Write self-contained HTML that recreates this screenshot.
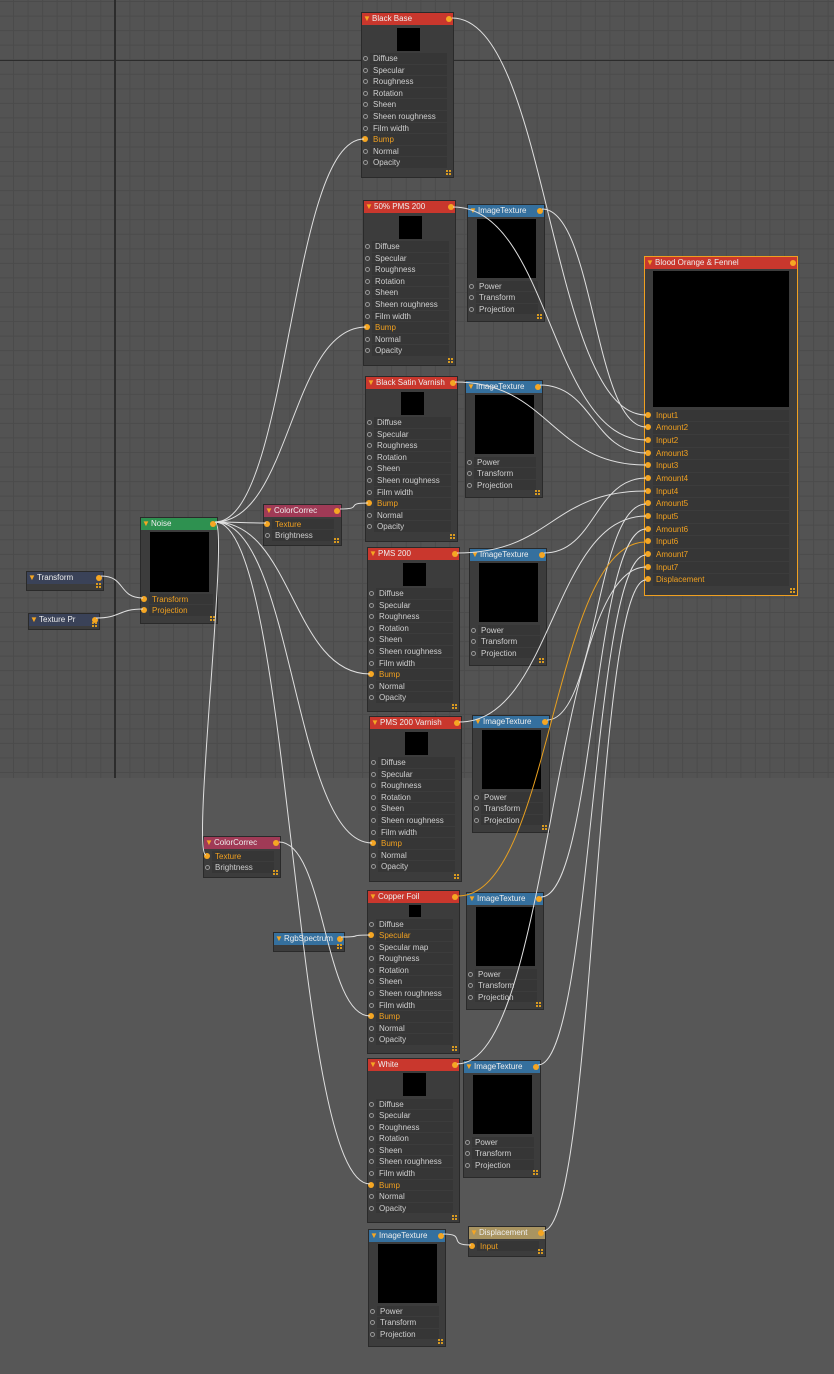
<!DOCTYPE html>
<html><head><meta charset="utf-8"><style>
body{margin:0;width:834px;height:1374px;overflow:hidden;background:#575757;font-family:"Liberation Sans",sans-serif;position:relative}
#grid{position:absolute;left:0;top:0;width:834px;height:778px;background-color:#535353;
background-image:linear-gradient(90deg,transparent 114px,#2c2c2c 114px,#2c2c2c 116px,transparent 116px),linear-gradient(0deg,transparent 717px,#2c2c2c 717px,#2c2c2c 718px,transparent 718px),linear-gradient(90deg,#4b4b4b 1px,transparent 1px),linear-gradient(0deg,#4b4b4b 1px,transparent 1px);
background-size:834px 778px,834px 778px,14.56px 14.56px,14.56px 14.56px;background-position:0 0,0 0,13px 0,0 2px}
.n{position:absolute;background:#3c3c3c;border:1px solid #2a2a2a;box-sizing:border-box}
.h{position:absolute;left:0;right:0;top:0;height:12px;line-height:12px;font-size:8px;color:#eee;padding-left:10px;white-space:nowrap;overflow:hidden}
.h i{position:absolute;left:1px;top:0;font-style:normal;font-size:8px;color:#f5a623}
.h b{position:absolute;right:1px;top:3px;width:6px;height:6px;border-radius:50%;background:#f5a623}
.red{background:#c9372d}.blu{background:#35709e}.grn{background:#2e9150}.mag{background:#a03a56}.nav{background:#3a4258}.kha{background:#a99461}
.pv{position:absolute;background:#000}
.rs{position:absolute}
.r{position:relative;height:11.6px;line-height:11px;font-size:8px;color:#cfcfcf;background:#363636;border-bottom:1px solid #3c3c3c;box-sizing:border-box;padding-left:3px;white-space:nowrap}
.r::before{content:"";position:absolute;left:-7px;top:3px;width:3px;height:3px;border:1px solid #999;border-radius:50%}
.r.c{color:#f0a020}
.r.c::before{left:-8px;top:2px;width:6px;height:6px;border:none;background:#f5a623}
.g{position:absolute;right:2px;bottom:2px;width:5px;height:5px;background:
linear-gradient(90deg,#d89a20 2px,transparent 2px,transparent 3px,#d89a20 3px);}
.g::after{content:"";position:absolute;left:0;top:2px;width:5px;height:1px;background:#3c3c3c}
svg{position:absolute;left:0;top:0}
</style></head><body>
<div id="grid"></div>

<div class="n" style="left:361px;top:12px;width:93px;height:166px"><div class="h red"><i>▼</i>Black Base<b></b></div><div class="pv" style="left:35px;top:15px;width:23px;height:23px"></div>
<div class="rs" style="left:8px;top:40px;width:77px"><div class="r">Diffuse</div><div class="r">Specular</div><div class="r">Roughness</div><div class="r">Rotation</div><div class="r">Sheen</div><div class="r">Sheen roughness</div><div class="r">Film width</div><div class="r c">Bump</div><div class="r">Normal</div><div class="r">Opacity</div></div><div class="g"></div></div>

<div class="n" style="left:363px;top:200px;width:93px;height:166px"><div class="h red"><i>▼</i>50% PMS 200<b></b></div><div class="pv" style="left:35px;top:15px;width:23px;height:23px"></div>
<div class="rs" style="left:8px;top:40px;width:77px"><div class="r">Diffuse</div><div class="r">Specular</div><div class="r">Roughness</div><div class="r">Rotation</div><div class="r">Sheen</div><div class="r">Sheen roughness</div><div class="r">Film width</div><div class="r c">Bump</div><div class="r">Normal</div><div class="r">Opacity</div></div><div class="g"></div></div>

<div class="n" style="left:365px;top:376px;width:93px;height:166px"><div class="h red"><i>▼</i>Black Satin Varnish<b></b></div><div class="pv" style="left:35px;top:15px;width:23px;height:23px"></div>
<div class="rs" style="left:8px;top:40px;width:77px"><div class="r">Diffuse</div><div class="r">Specular</div><div class="r">Roughness</div><div class="r">Rotation</div><div class="r">Sheen</div><div class="r">Sheen roughness</div><div class="r">Film width</div><div class="r c">Bump</div><div class="r">Normal</div><div class="r">Opacity</div></div><div class="g"></div></div>

<div class="n" style="left:367px;top:547px;width:93px;height:165px"><div class="h red"><i>▼</i>PMS 200<b></b></div><div class="pv" style="left:35px;top:15px;width:23px;height:23px"></div>
<div class="rs" style="left:8px;top:40px;width:77px"><div class="r">Diffuse</div><div class="r">Specular</div><div class="r">Roughness</div><div class="r">Rotation</div><div class="r">Sheen</div><div class="r">Sheen roughness</div><div class="r">Film width</div><div class="r c">Bump</div><div class="r">Normal</div><div class="r">Opacity</div></div><div class="g"></div></div>

<div class="n" style="left:369px;top:716px;width:93px;height:166px"><div class="h red"><i>▼</i>PMS 200 Varnish<b></b></div><div class="pv" style="left:35px;top:15px;width:23px;height:23px"></div>
<div class="rs" style="left:8px;top:40px;width:77px"><div class="r">Diffuse</div><div class="r">Specular</div><div class="r">Roughness</div><div class="r">Rotation</div><div class="r">Sheen</div><div class="r">Sheen roughness</div><div class="r">Film width</div><div class="r c">Bump</div><div class="r">Normal</div><div class="r">Opacity</div></div><div class="g"></div></div>

<div class="n" style="left:367px;top:890px;width:93px;height:164px"><div class="h red"><i>▼</i>Copper Foil<b></b></div><div class="pv" style="left:41px;top:14px;width:12px;height:12px"></div>
<div class="rs" style="left:8px;top:27.5px;width:77px"><div class="r">Diffuse</div><div class="r c">Specular</div><div class="r">Specular map</div><div class="r">Roughness</div><div class="r">Rotation</div><div class="r">Sheen</div><div class="r">Sheen roughness</div><div class="r">Film width</div><div class="r c">Bump</div><div class="r">Normal</div><div class="r">Opacity</div></div><div class="g"></div></div>

<div class="n" style="left:367px;top:1058px;width:93px;height:165px"><div class="h red"><i>▼</i>White<b></b></div><div class="pv" style="left:35px;top:14px;width:23px;height:23px"></div>
<div class="rs" style="left:8px;top:39.5px;width:77px"><div class="r">Diffuse</div><div class="r">Specular</div><div class="r">Roughness</div><div class="r">Rotation</div><div class="r">Sheen</div><div class="r">Sheen roughness</div><div class="r">Film width</div><div class="r c">Bump</div><div class="r">Normal</div><div class="r">Opacity</div></div><div class="g"></div></div>

<div class="n" style="left:467px;top:204px;width:78px;height:118px"><div class="h blu"><i>▼</i>ImageTexture<b></b></div><div class="pv" style="left:9px;top:14px;width:59px;height:59px"></div>
<div class="rs" style="left:8px;top:75.5px;width:62px"><div class="r">Power</div><div class="r">Transform</div><div class="r">Projection</div></div><div class="g"></div></div>
<div class="n" style="left:465px;top:380px;width:78px;height:118px"><div class="h blu"><i>▼</i>ImageTexture<b></b></div><div class="pv" style="left:9px;top:14px;width:59px;height:59px"></div>
<div class="rs" style="left:8px;top:75.5px;width:62px"><div class="r">Power</div><div class="r">Transform</div><div class="r">Projection</div></div><div class="g"></div></div>
<div class="n" style="left:469px;top:548px;width:78px;height:118px"><div class="h blu"><i>▼</i>ImageTexture<b></b></div><div class="pv" style="left:9px;top:14px;width:59px;height:59px"></div>
<div class="rs" style="left:8px;top:75.5px;width:62px"><div class="r">Power</div><div class="r">Transform</div><div class="r">Projection</div></div><div class="g"></div></div>
<div class="n" style="left:472px;top:715px;width:78px;height:118px"><div class="h blu"><i>▼</i>ImageTexture<b></b></div><div class="pv" style="left:9px;top:14px;width:59px;height:59px"></div>
<div class="rs" style="left:8px;top:75.5px;width:62px"><div class="r">Power</div><div class="r">Transform</div><div class="r">Projection</div></div><div class="g"></div></div>
<div class="n" style="left:466px;top:892px;width:78px;height:118px"><div class="h blu"><i>▼</i>ImageTexture<b></b></div><div class="pv" style="left:9px;top:14px;width:59px;height:59px"></div>
<div class="rs" style="left:8px;top:75.5px;width:62px"><div class="r">Power</div><div class="r">Transform</div><div class="r">Projection</div></div><div class="g"></div></div>
<div class="n" style="left:463px;top:1060px;width:78px;height:118px"><div class="h blu"><i>▼</i>ImageTexture<b></b></div><div class="pv" style="left:9px;top:14px;width:59px;height:59px"></div>
<div class="rs" style="left:8px;top:75.5px;width:62px"><div class="r">Power</div><div class="r">Transform</div><div class="r">Projection</div></div><div class="g"></div></div>
<div class="n" style="left:368px;top:1229px;width:78px;height:118px"><div class="h blu"><i>▼</i>ImageTexture<b></b></div><div class="pv" style="left:9px;top:14px;width:59px;height:59px"></div>
<div class="rs" style="left:8px;top:75.5px;width:62px"><div class="r">Power</div><div class="r">Transform</div><div class="r">Projection</div></div><div class="g"></div></div>

<div class="n" style="left:644px;top:256px;width:154px;height:340px;border-color:#f0a020"><div class="h red"><i>▼</i>Blood Orange &amp; Fennel<b></b></div><div class="pv" style="left:8px;top:14px;width:136px;height:136px"></div>
<div class="rs" style="left:8px;top:152.5px;width:136px">
<div class="r c" style="height:12.7px;line-height:12px">Input1</div><div class="r c" style="height:12.7px;line-height:12px">Amount2</div><div class="r c" style="height:12.7px;line-height:12px">Input2</div><div class="r c" style="height:12.7px;line-height:12px">Amount3</div><div class="r c" style="height:12.7px;line-height:12px">Input3</div><div class="r c" style="height:12.7px;line-height:12px">Amount4</div><div class="r c" style="height:12.7px;line-height:12px">Input4</div><div class="r c" style="height:12.7px;line-height:12px">Amount5</div><div class="r c" style="height:12.7px;line-height:12px">Input5</div><div class="r c" style="height:12.7px;line-height:12px">Amount6</div><div class="r c" style="height:12.7px;line-height:12px">Input6</div><div class="r c" style="height:12.7px;line-height:12px">Amount7</div><div class="r c" style="height:12.7px;line-height:12px">Input7</div><div class="r c" style="height:12.7px;line-height:12px">Displacement</div></div><div class="g"></div></div>

<div class="n" style="left:140px;top:517px;width:78px;height:107px"><div class="h grn"><i>▼</i>Noise<b></b></div><div class="pv" style="left:9px;top:14px;width:59px;height:60px"></div>
<div class="rs" style="left:8px;top:75.5px;width:64px"><div class="r c">Transform</div><div class="r c">Projection</div></div><div class="g"></div></div>
<div class="n" style="left:26px;top:571px;width:78px;height:20px"><div class="h nav"><i>▼</i>Transform<b></b></div><div class="g"></div></div>
<div class="n" style="left:28px;top:613px;width:72px;height:17px"><div class="h nav"><i>▼</i>Texture Pr<b></b></div><div class="g"></div></div>
<div class="n" style="left:263px;top:504px;width:79px;height:42px"><div class="h mag"><i>▼</i>ColorCorrec<b></b></div>
<div class="rs" style="left:8px;top:13.5px;width:62px"><div class="r c">Texture</div><div class="r">Brightness</div></div><div class="g"></div></div>
<div class="n" style="left:203px;top:836px;width:78px;height:42px"><div class="h mag"><i>▼</i>ColorCorrec<b></b></div>
<div class="rs" style="left:8px;top:13.5px;width:62px"><div class="r c">Texture</div><div class="r">Brightness</div></div><div class="g"></div></div>
<div class="n" style="left:273px;top:932px;width:72px;height:20px"><div class="h blu"><i>▼</i>RgbSpectrum<b></b></div><div class="g"></div></div>
<div class="n" style="left:468px;top:1226px;width:78px;height:31px"><div class="h kha"><i>▼</i>Displacement<b></b></div>
<div class="rs" style="left:8px;top:13.5px;width:62px"><div class="r c">Input</div></div><div class="g"></div></div>

<svg width="834" height="1374" viewBox="0 0 834 1374" fill="none" stroke="#e0e0e0" stroke-width="1">
<path d="M452 18 C549 18 549 415 646 415"/>
<path d="M453 207 C550 207 550 440 646 440"/>
<path d="M542 209 C594 209 594 427 646 427"/>
<path d="M455 382 C550 382 551 465 646 465"/>
<path d="M540 385 C593 385 593 453 646 453"/>
<path d="M457 553 C552 553 551 491 646 491"/>
<path d="M544 553 C595 553 595 478 646 478"/>
<path d="M459 722 C553 722 552 516 646 516"/>
<path d="M547 720 C597 720 596 504 646 504"/>
<path d="M458 896 C552 896 552 542 646 542" stroke="#e8a020"/>
<path d="M541 897 C594 897 593 529 646 529"/>
<path d="M457 1064 C552 1064 551 567 646 567"/>
<path d="M538 1065 C592 1065 592 555 646 555"/>
<path d="M543 1231 C595 1231 594 580 646 580"/>
<path d="M215 522 C290 522 289 139 364 139"/>
<path d="M215 522 C291 522 290 327 366 327"/>
<path d="M215 522 C241 522 240 523 266 523"/>
<path d="M340 509 C365 509 343 503 368 503"/>
<path d="M215 522 C293 522 292 674 370 674"/>
<path d="M215 522 C294 522 293 843 372 843"/>
<path d="M215 522 C230 522 191 855 206 855"/>
<path d="M279 842 C325 842 324 1016 370 1016"/>
<path d="M215 522 C293 522 292 1184 370 1184"/>
<path d="M101 576 C126 576 118 598 143 598"/>
<path d="M96 618 C121 618 118 609 143 609"/>
<path d="M341 937 C366 937 345 935 370 935"/>
<path d="M443 1234 C468 1234 446 1245 471 1245"/>
</svg>
</body></html>
